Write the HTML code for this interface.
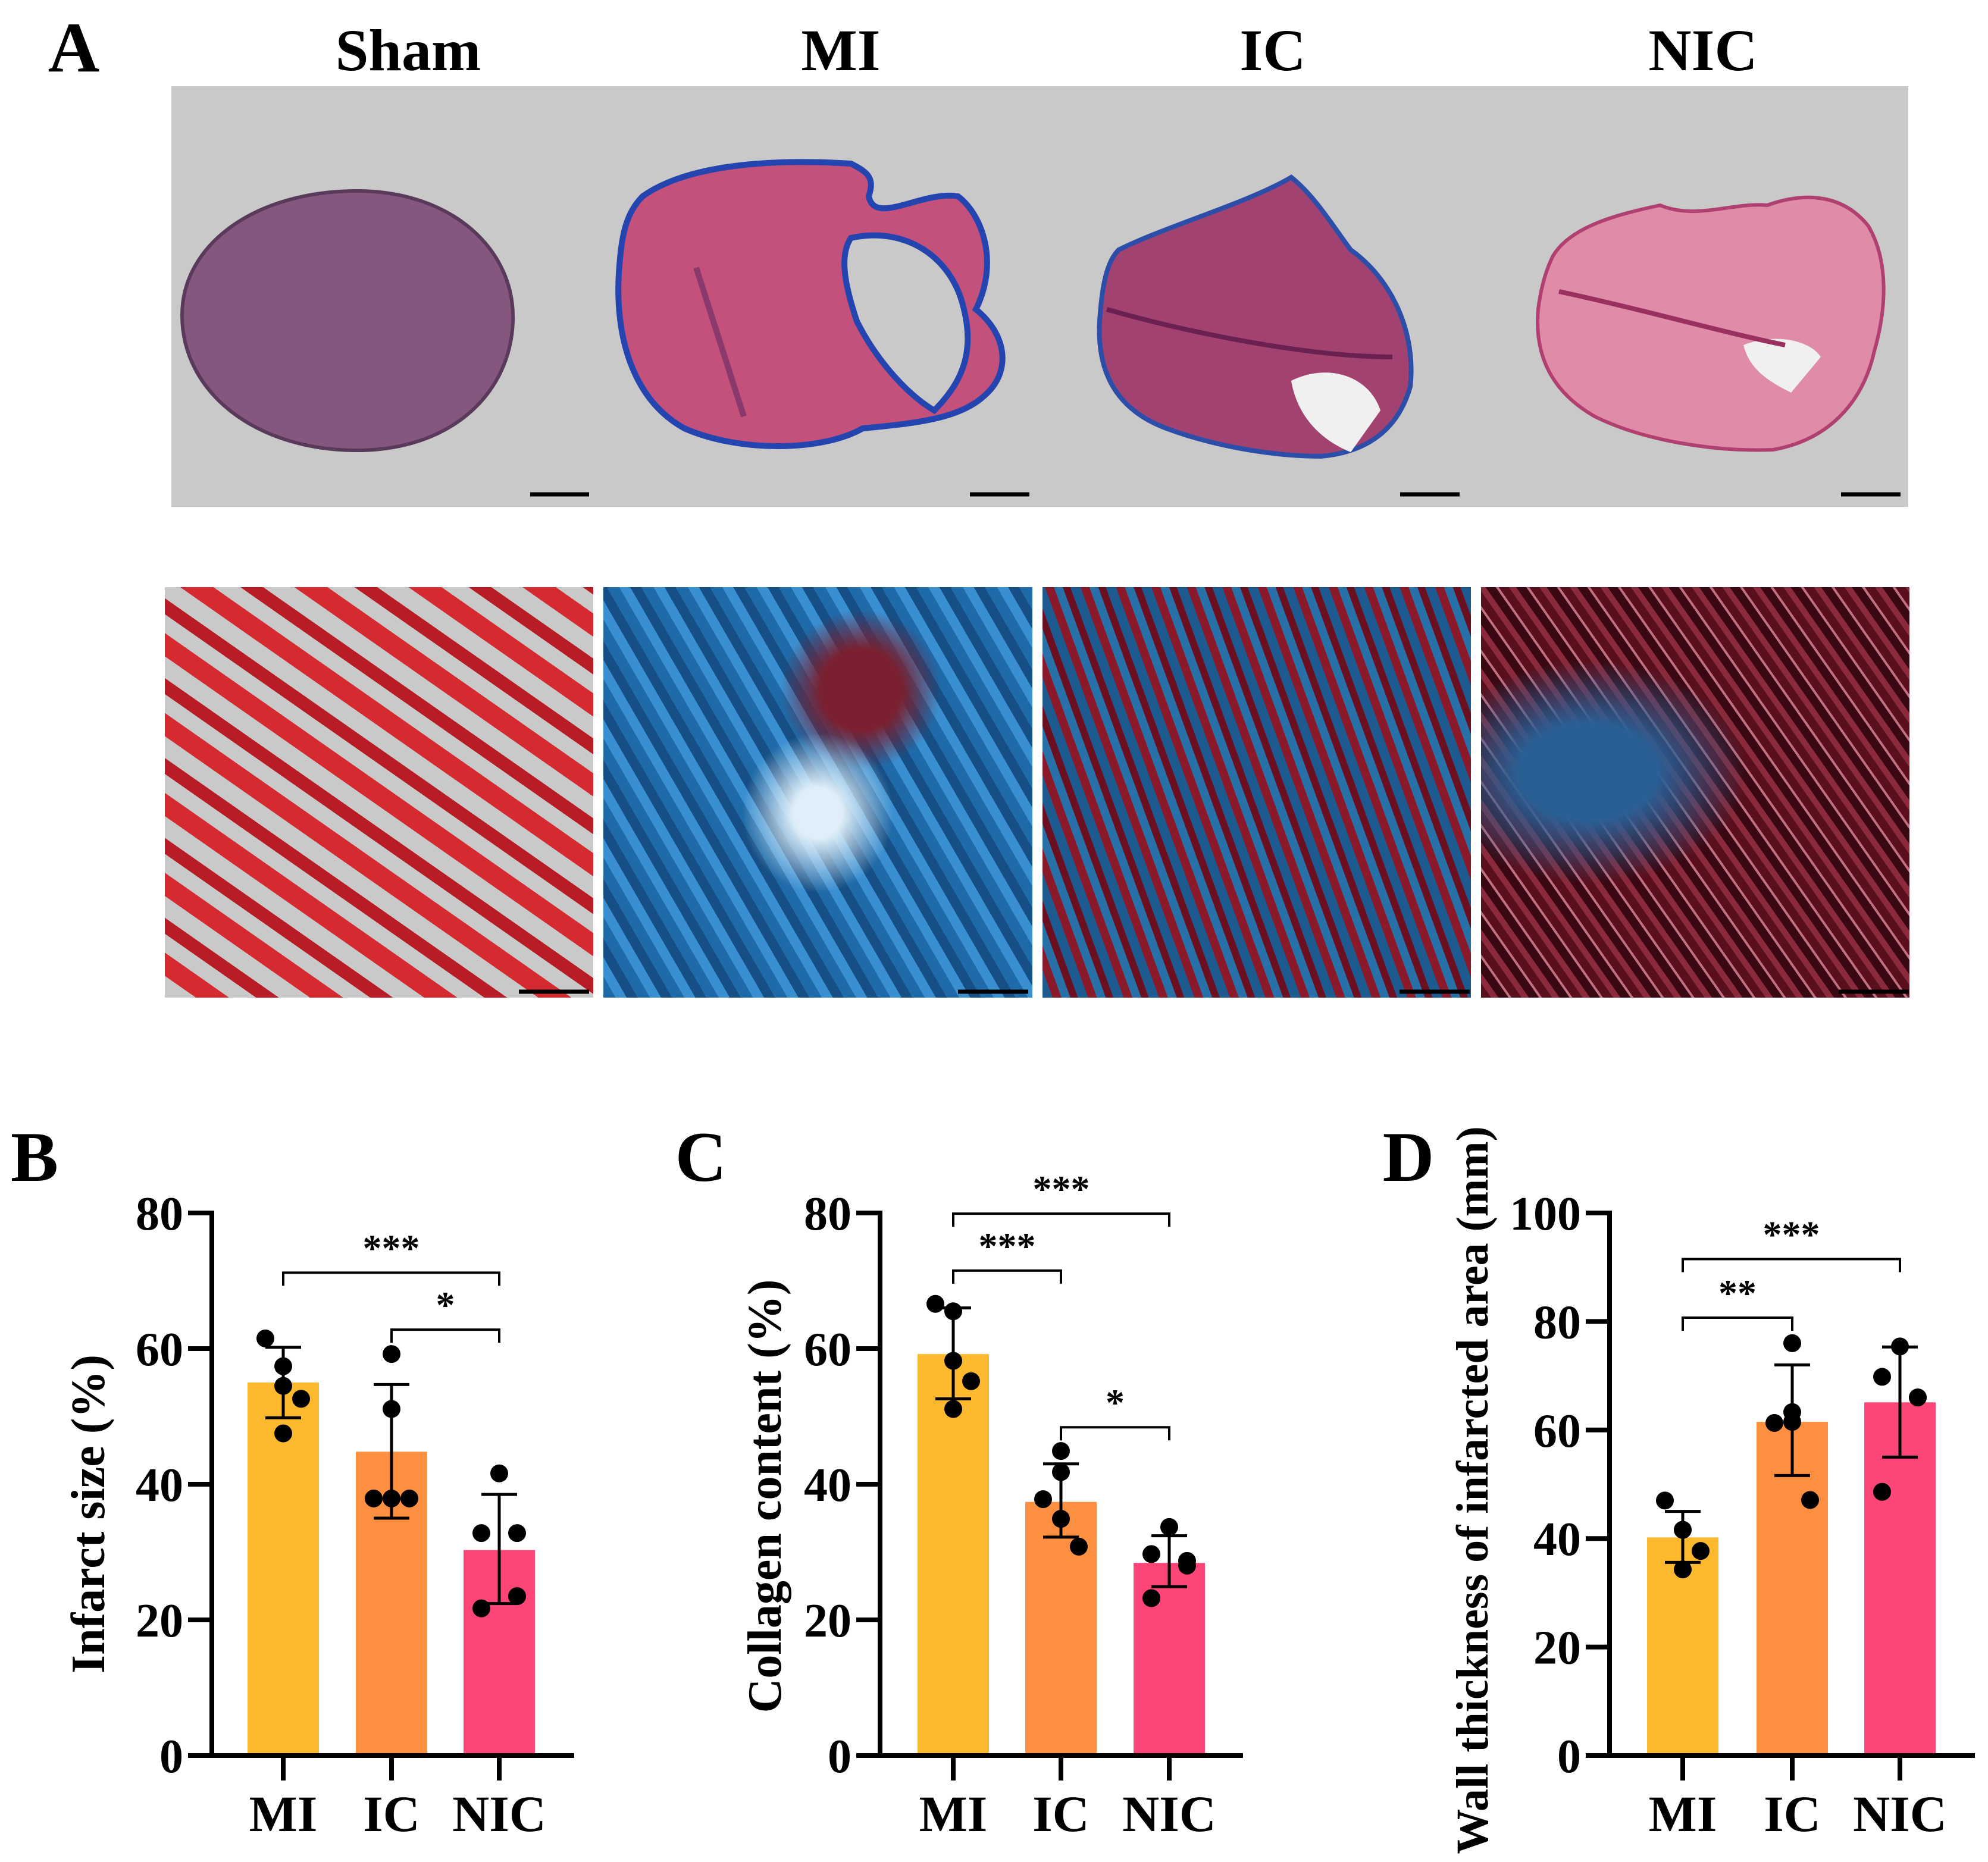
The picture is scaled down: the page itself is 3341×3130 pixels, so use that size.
<!DOCTYPE html>
<html><head><meta charset="utf-8"><style>
html,body{margin:0;padding:0;background:#fff;}
#root{position:relative;width:3341px;height:3130px;overflow:hidden;background:#fff;font-family:"Liberation Serif",serif;}
.micro{position:absolute;top:987px;height:690px;}
</style></head><body>
<div id="root">
<div class="micro" style="left:277px;width:720px;background:repeating-linear-gradient(35deg,#c9c9c9 0 30px,#d42a30 30px 62px,#c9c9c9 62px 88px,#b81c24 88px 110px);"></div>
<div class="micro" style="left:1014px;width:721px;background:radial-gradient(ellipse at 50% 55%,#dfeef8 0 8%,transparent 25%),radial-gradient(circle at 60% 25%,#7a2030 0 10%,transparent 20%),repeating-linear-gradient(60deg,#1f6aa8 0 18px,#3a8fd0 18px 34px,#154f86 34px 50px);"></div>
<div class="micro" style="left:1752px;width:720px;background:repeating-linear-gradient(70deg,#1d5a8f 0 16px,#8a1a2a 16px 30px,#2870a8 30px 44px,#6a1020 44px 56px);"></div>
<div class="micro" style="left:2489px;width:720px;background:radial-gradient(ellipse at 25% 45%,#2a5f95 0 15%,transparent 35%),repeating-linear-gradient(55deg,#5a0f1c 0 14px,#8a2a3a 14px 24px,#3a0812 24px 38px,#c07080 38px 42px);"></div>
<svg id="svg" width="3341" height="3130" style="position:absolute;left:0;top:0" xmlns="http://www.w3.org/2000/svg"></svg>
</div>
<script>
// ---- chart data ----
const categories = ["MI","IC","NIC"];
const meansB = [55, 44.8, 30.3];
const sdLoB = [49.8, 35, 22.4];
const sdHiB = [60.2, 54.7, 38.5];
const ptsB = [[61.5,57.4,54.5,52.6,47.5],[59.2,51.1,37.9,37.9,37.9],[41.6,32.8,32.8,23.5,21.7]];
const ticksB = [0,20,40,60,80];
const meansC = [59.2, 37.4, 28.4];
const sdLoC = [52.6, 32.2, 24.9];
const sdHiC = [66, 43, 32.4];
const ptsC = [[66.6,65.5,58.2,55.2,51.1],[44.9,41.8,37.8,34.9,30.8],[33.7,29.7,28.7,28,23.2]];
const ticksC = [0,20,40,60,80];
const meansD = [40.2, 61.5, 65.1];
const sdLoD = [35.6, 51.6, 55];
const sdHiD = [45, 72, 75.3];
const ptsD = [[47,41.6,41.6,37.7,34.3],[76,63.3,61.3,61.5,47.1],[75.4,69.8,66,66,48.6]];
const ticksD = [0,20,40,60,80,100];
const sigB = [[0,2,71.2,"***"],[1,2,62.8,"*"]];
const sigC = [[0,2,79.9,"***"],[0,1,71.5,"***"],[1,2,48.4,"*"]];
const sigD = [[0,2,91.5,"***"],[0,1,80.7,"**"]];
const ptOffsets = [[-30,0,0,30,0],[0,0,-30,0,30],[0,-30,30,30,-30]];

const NS="http://www.w3.org/2000/svg";
const svg=document.getElementById('svg');
function mk(tag,attrs,parent,text){const e=document.createElementNS(NS,tag);for(const k in attrs)e.setAttribute(k,attrs[k]);if(text!==undefined)e.textContent=text;(parent||svg).appendChild(e);return e;}

// ---- Panel A ----
let t=mk('text',{x:124,y:120,'font-size':120,'font-weight':'bold','text-anchor':'middle'},svg,'A');


const gl=["Sham","MI","IC","NIC"],gx=[686,1413,2139,2862];
gl.forEach((g,i)=>{const e=mk('text',{x:gx[i],y:118,'font-size':100,'font-weight':'bold','text-anchor':'middle'},svg,g);

});
let box=mk('rect',{x:288,y:145,width:2919,height:707,fill:'#c9c9c9'});


const hearts=[
 ['heart-sham','M600 321 C760 321 866 420 862 540 C858 660 760 757 600 757 C430 757 306 660 306 530 C306 410 430 321 600 321Z','#86577e','#5a3a5a',6],
 ['heart-mi','M1080 330 C1150 280 1280 266 1430 275 C1460 290 1470 300 1460 330 C1470 380 1550 320 1610 330 C1650 360 1680 440 1640 520 C1690 560 1700 620 1660 660 C1620 700 1560 710 1450 720 C1380 760 1240 760 1150 720 C1060 670 1034 560 1040 460 C1044 400 1050 360 1080 330Z','#c4507c','#2444b0',10],
 ['heart-ic','M1880 420 C1960 380 2100 340 2170 298 C2210 330 2240 380 2270 420 C2340 470 2380 560 2370 650 C2350 720 2300 760 2220 767 C2140 767 2040 750 1960 720 C1880 690 1843 630 1848 540 C1852 480 1860 440 1880 420Z','#a24270','#2c4ea8',8],
 ['heart-nic','M2610 430 C2640 380 2720 360 2790 345 C2850 370 2910 340 2970 345 C3040 320 3100 330 3140 380 C3175 440 3170 520 3150 590 C3130 680 3070 740 2980 756 C2880 760 2760 740 2680 700 C2610 660 2578 600 2585 520 C2590 480 2600 450 2610 430Z','#e08ca8','#b04070',6]];
hearts.forEach(h=>{const p=mk('path',{d:h[1],fill:h[2],stroke:h[3],'stroke-width':h[4]});

});
mk('path',{d:'M1430 400 C1520 380 1600 430 1620 520 C1640 600 1610 650 1570 690 C1520 660 1470 600 1440 540 C1420 480 1410 430 1430 400Z',fill:'#c9c9c9',stroke:'#2444b0','stroke-width':10});
mk('path',{d:'M2170 640 C2230 610 2300 630 2320 690 L2270 760 C2220 740 2180 700 2170 640Z',fill:'#f0f0f0'});
mk('path',{d:'M2930 580 C2980 560 3040 570 3060 600 L3010 660 C2970 640 2940 620 2930 580Z',fill:'#f0f0f0'});
mk('path',{d:'M1170 450 L1250 700',stroke:'#8a3a6a','stroke-width':10,fill:'none'});
mk('path',{d:'M1860 520 C2000 560 2200 600 2340 600',stroke:'#6a2050','stroke-width':8,fill:'none'});
mk('path',{d:'M2620 490 C2760 520 2900 560 3000 580',stroke:'#9a3060','stroke-width':8,fill:'none'});
[[891,990],[1630,1730],[2353,2453],[3094,3194]].forEach((s,i)=>{const l=mk('line',{x1:s[0],x2:s[1],y1:831,y2:831,stroke:'#000','stroke-width':7});

});
[[872,990],[1610,1728],[2352,2470],[3090,3208]].forEach((s,i)=>{const l=mk('line',{x1:s[0],x2:s[1],y1:1667,y2:1667,stroke:'#000','stroke-width':7});

});

// ---- bar charts ----
const colors=['#fdb92e','#fd8f40','#fe4577'];
function chart(o){
 const g=mk('g',{});
 
 
 const y0=2951,yTop=2039;
 const Y=v=>y0-(v/o.max)*(y0-yTop);
 const X=i=>o.barX[i]+o.barW/2;
 const L=mk('text',{x:o.letterX,y:1985,'font-size':120,'font-weight':'bold','text-anchor':'middle'},g,o.letter);
 
 
 categories.forEach((c,i)=>{
  const r=mk('rect',{x:o.barX[i],y:Y(o.means[i]),width:o.barW,height:y0-Y(o.means[i]),fill:colors[i]},g);
  
  
 });
 categories.forEach((c,i)=>{
  const eb=mk('g',{stroke:'#000','stroke-width':5},g);
  
  
  mk('line',{x1:X(i),x2:X(i),y1:Y(o.lo[i]),y2:Y(o.hi[i])},eb);
  mk('line',{x1:X(i)-30,x2:X(i)+30,y1:Y(o.lo[i]),y2:Y(o.lo[i])},eb);
  mk('line',{x1:X(i)-30,x2:X(i)+30,y1:Y(o.hi[i]),y2:Y(o.hi[i])},eb);
  o.pts[i].forEach((v,j)=>{const d=mk('circle',{cx:X(i)+ptOffsets[i][j],cy:Y(v),r:15,fill:'#000'},g);
   
   });
 });
 const ax=mk('g',{stroke:'#000','stroke-width':8},g);
 
 
 mk('line',{x1:o.axisX,x2:o.axisX,y1:yTop-4,y2:y0+4},ax);
 mk('line',{x1:o.axisX-40,x2:o.xEnd,y1:y0,y2:y0},ax);
 o.ticks.forEach(tv=>{mk('line',{x1:o.axisX-40,x2:o.axisX,y1:Y(tv),y2:Y(tv)},ax);
  const tl=mk('text',{x:o.axisX-48,y:Y(tv)+28,'font-size':80,'font-weight':'bold','text-anchor':'end'},g,String(tv));
  
  });
 categories.forEach((c,i)=>{mk('line',{x1:X(i),x2:X(i),y1:y0,y2:y0+42},ax);
  const xl=mk('text',{x:X(i),y:3078,'font-size':86,'font-weight':'bold','text-anchor':'middle'},g,c);
  
  });
 const yt=mk('text',{x:0,y:0,'font-size':o.titleSize,'font-weight':'bold','text-anchor':'middle',transform:`translate(${o.titleX},${o.titleY}) rotate(-90)`},g,o.title);
 
 
 o.sig.forEach(s=>{const yy=Y(s[2]);
  const br=mk('path',{d:`M${X(s[0])} ${yy+22} V${yy} H${X(s[1])} V${yy+22}`,fill:'none',stroke:'#000','stroke-width':4},g);
  
  
  const st=mk('text',{x:(X(s[0])+X(s[1]))/2,y:yy-20,'font-size':64,'font-weight':'bold','text-anchor':'middle'},g,s[3]);
  
  });
}
chart({id:'b',letter:'B',letterX:58,max:80,means:meansB,lo:sdLoB,hi:sdHiB,pts:ptsB,ticks:ticksB,sig:sigB,
 axisX:356,xEnd:965,barX:[416,598,779],barW:120,title:'Infarct size (%)',titleX:175,titleY:2545,titleSize:80});
chart({id:'c',letter:'C',letterX:1178,max:80,means:meansC,lo:sdLoC,hi:sdHiC,pts:ptsC,ticks:ticksC,sig:sigC,
 axisX:1479,xEnd:2089,barX:[1542,1723,1905],barW:120,title:'Collagen content (%)',titleX:1312,titleY:2515,titleSize:80});
chart({id:'d',letter:'D',letterX:2367,max:100,means:meansD,lo:sdLoD,hi:sdHiD,pts:ptsD,ticks:ticksD,sig:sigD,
 axisX:2705,xEnd:3319,barX:[2768,2952,3133],barW:120,title:'Wall thickness of infarcted area (mm)',titleX:2500,titleY:2505,titleSize:76});
</script>
</body></html>
